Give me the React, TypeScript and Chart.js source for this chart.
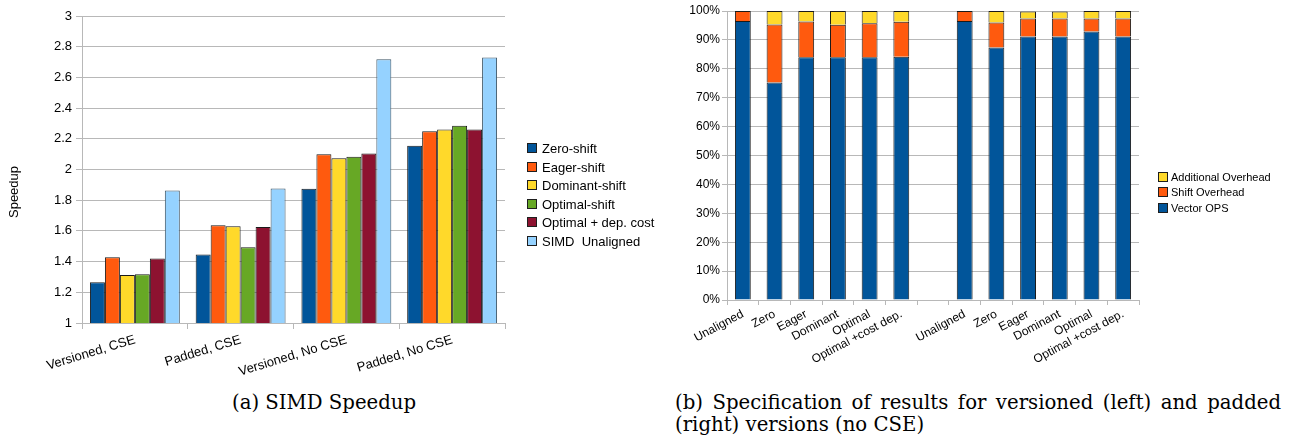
import React, { useEffect, useRef } from "react";
import { Chart, registerables } from "chart.js";

Chart.register(...registerables);

const FONT = "'Liberation Sans', Arial, sans-serif";
const GRID = "#b8b8b8";

// ---------- (a) SIMD Speedup ----------
const groupLabels = ["Versioned, CSE", "Padded, CSE", "Versioned, No CSE", "Padded, No CSE"];
const zeroShift = [1.265, 1.447, 1.875, 2.155];
const eagerShift = [1.428, 1.636, 2.1, 2.25];
const dominantShift = [1.313, 1.63, 2.073, 2.26];
const optimalShift = [1.317, 1.493, 2.083, 2.285];
const optimalDepCost = [1.421, 1.625, 2.105, 2.26];
const simdUnaligned = [1.864, 1.877, 2.718, 2.73];
const speedupSeriesNames = [
  "Zero-shift",
  "Eager-shift",
  "Dominant-shift",
  "Optimal-shift",
  "Optimal + dep. cost",
  "SIMD  Unaligned",
];

// ---------- (b) Specification ----------
const specCategories = [
  "Unaligned", "Zero", "Eager", "Dominant", "Optimal", "Optimal +cost dep.",
  "",
  "Unaligned", "Zero", "Eager", "Dominant", "Optimal", "Optimal +cost dep.",
];
const vectorOps = [96.5, 75.3, 84.0, 84.0, 84.0, 84.2, null, 96.5, 87.4, 91.2, 91.2, 92.9, 91.2];
const shiftOverhead = [3.5, 20.0, 12.4, 11.2, 11.8, 12.1, null, 3.5, 8.6, 6.2, 6.2, 4.5, 6.2];
const additionalOverhead = [0, 4.7, 3.6, 4.8, 4.2, 3.7, null, 0, 4.0, 2.4, 2.4, 2.6, 2.6];
const specSeriesNames = ["Vector OPS", "Shift Overhead", "Additional Overhead"];

const COLORS = {
  blue: "#01559a",
  orange: "#ff5a0e",
  yellow: "#ffd92a",
  green: "#67a825",
  maroon: "#8d1230",
  light: "#95d2ff",
};

const boxLegend = {
  id: "boxLegend",
  afterDraw(chart: any, _args: any, opts: any) {
    const { ctx } = chart;
    const items = chart.data.datasets.map((d: any) => ({ label: d.label, color: d.backgroundColor }));
    const list = opts.reverse ? items.slice().reverse() : items;
    ctx.save();
    ctx.font = `${opts.fontSize}px ${FONT}`;
    ctx.textBaseline = "middle";
    ctx.textAlign = "left";
    list.forEach((it: any, i: number) => {
      const cy = Math.round(opts.y + i * opts.spacing);
      const bx = opts.x + 0.5;
      const by = cy - Math.round(opts.box / 2) + 0.5;
      ctx.fillStyle = it.color;
      ctx.fillRect(bx, by, opts.box, opts.box);
      ctx.strokeStyle = "#1e1e1e";
      ctx.lineWidth = 1;
      ctx.strokeRect(bx, by, opts.box, opts.box);
      ctx.fillStyle = "#000";
      ctx.fillText(it.label, opts.textX, cy + 1);
    });
    if (opts.yTitle) {
      ctx.save();
      ctx.translate(opts.yTitle.x, opts.yTitle.y);
      ctx.rotate(-Math.PI / 2);
      ctx.textAlign = "center";
      ctx.textBaseline = "middle";
      ctx.font = `${opts.yTitle.size}px ${FONT}`;
      ctx.fillText(opts.yTitle.text, 0, 0);
      ctx.restore();
    }
    ctx.restore();
  },
};

function lastLineColor(n: number) {
  return (c: any) => (c.index === n ? GRID : "rgba(0,0,0,0)");
}

function SpeedupChart() {
  const ref = useRef<HTMLCanvasElement>(null);
  useEffect(() => {
    const colors = [COLORS.blue, COLORS.orange, COLORS.yellow, COLORS.green, COLORS.maroon, COLORS.light];
    const series = [zeroShift, eagerShift, dominantShift, optimalShift, optimalDepCost, simdUnaligned];
    const chart = new Chart(ref.current!, {
      type: "bar",
      data: {
        labels: groupLabels,
        datasets: series.map((s, i) => ({
          label: speedupSeriesNames[i],
          data: s,
          backgroundColor: colors[i],
          borderColor: i === 5 ? "#3d5566" : "#1a1a1a",
          borderWidth: 1,
          barPercentage: 1,
          categoryPercentage: 0.85,
        })),
      },
      options: {
        animation: false,
        responsive: false,
        devicePixelRatio: 1,
        layout: { padding: { top: 16, right: 175, bottom: 0, left: 0 } },
        plugins: {
          legend: { display: false },
          tooltip: { enabled: false },
          boxLegend: {
            x: 527, y: 148, spacing: 18.5, box: 9, textX: 542, fontSize: 13,
            yTitle: { text: "Speedup", x: 14, y: 192, size: 13 },
          },
        } as any,
        scales: {
          x: {
            offset: true,
            grid: {
              display: true,
              drawOnChartArea: true,
              color: lastLineColor(groupLabels.length),
              tickColor: GRID,
              tickLength: 6,
            },
            border: { color: GRID },
            ticks: {
              font: { family: FONT, size: 13 },
              color: "#000",
              minRotation: 17,
              maxRotation: 17,
              autoSkip: false,
              padding: 3,
            },
            afterFit: (s: any) => { s.height = 67; },
          },
          y: {
            min: 1,
            max: 3,
            ticks: {
              stepSize: 0.2,
              font: { family: FONT, size: 13 },
              color: "#000",
              padding: 4,
              callback: (v: any) => String(Math.round(Number(v) * 10) / 10),
            },
            grid: { color: GRID, tickColor: GRID, tickLength: 6 },
            border: { color: GRID },
            afterFit: (s: any) => { s.width = 82; },
          },
        },
      },
      plugins: [boxLegend],
    });
    return () => chart.destroy();
  }, []);
  return <canvas ref={ref} width={680} height={390} style={{ position: "absolute", left: 0, top: 0 }} />;
}

function SpecChart() {
  const ref = useRef<HTMLCanvasElement>(null);
  useEffect(() => {
    const colors = [COLORS.blue, COLORS.orange, COLORS.yellow];
    const series = [vectorOps, shiftOverhead, additionalOverhead];
    const chart = new Chart(ref.current!, {
      type: "bar",
      data: {
        labels: specCategories,
        datasets: series.map((s, i) => ({
          label: specSeriesNames[i],
          data: s,
          backgroundColor: colors[i],
          borderColor: "#1a1a1a",
          borderWidth: 1,
          barPercentage: 0.5,
          categoryPercentage: 1,
        })),
      },
      options: {
        animation: false,
        responsive: false,
        devicePixelRatio: 1,
        layout: { padding: { top: 11, right: 156, bottom: 0, left: 0 } },
        plugins: {
          legend: { display: false },
          tooltip: { enabled: false },
          boxLegend: { x: 478, y: 176.5, spacing: 15.5, box: 9, textX: 491, fontSize: 11, reverse: true },
        } as any,
        scales: {
          x: {
            stacked: true,
            offset: true,
            grid: {
              display: true,
              drawOnChartArea: true,
              color: lastLineColor(specCategories.length),
              tickColor: GRID,
              tickLength: 5,
            },
            border: { color: GRID },
            ticks: {
              font: { family: FONT, size: 12 },
              color: "#000",
              minRotation: 28,
              maxRotation: 28,
              autoSkip: false,
              padding: 2,
            },
            afterFit: (s: any) => { s.height = 90; },
          },
          y: {
            stacked: true,
            min: 0,
            max: 100,
            ticks: {
              stepSize: 10,
              font: { family: FONT, size: 12 },
              color: "#000",
              padding: 2,
              callback: (v: any) => `${v}%`,
            },
            grid: { color: GRID, tickColor: GRID, tickLength: 5 },
            border: { color: GRID },
            afterFit: (s: any) => { s.width = 47; },
          },
        },
      },
      plugins: [boxLegend],
    });
    return () => chart.destroy();
  }, []);
  return <canvas ref={ref} width={615} height={390} style={{ position: "absolute", left: 680, top: 0 }} />;
}

const captionStyle: React.CSSProperties = {
  position: "absolute",
  fontFamily: "'DejaVu Serif', serif",
  fontSize: 19.7,
  lineHeight: "22px",
  color: "#000",
  whiteSpace: "nowrap",
};

export default function App() {
  return (
    <div style={{ position: "absolute", left: 0, top: 0, width: 1295, height: 439, background: "#fff", overflow: "hidden" }}>
      <SpeedupChart />
      <SpecChart />
      <div style={{ ...captionStyle, left: 232, top: 392 }}>(a) SIMD Speedup</div>
      <div style={{ ...captionStyle, left: 675, top: 392, width: 606, textAlign: "justify", textAlignLast: "justify" as any }}>
        (b) Specification of results for versioned (left) and padded
      </div>
      <div style={{ ...captionStyle, left: 675, top: 414 }}>(right) versions (no CSE)</div>
    </div>
  );
}
